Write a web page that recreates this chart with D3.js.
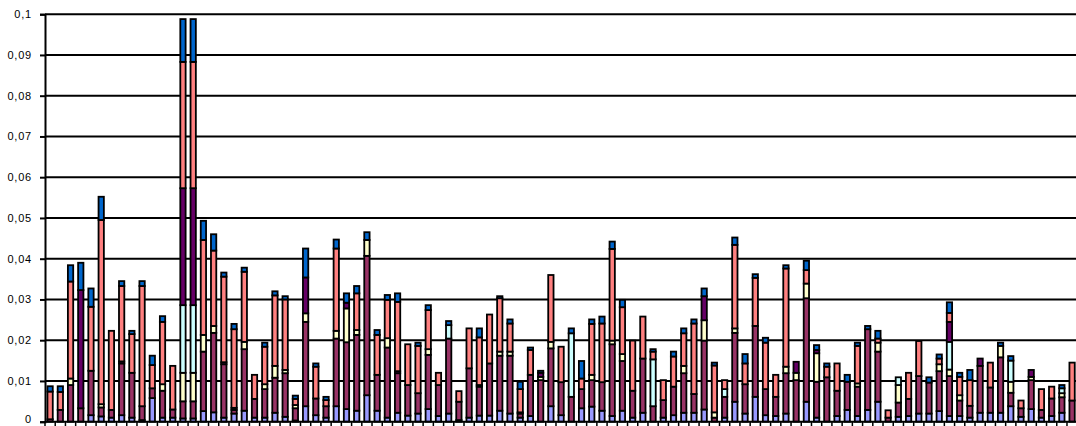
<!DOCTYPE html>
<html><head><meta charset="utf-8">
<script src="https://cdn.jsdelivr.net/npm/d3@7"></script>
<style>html,body{margin:0;padding:0;background:#fff;} svg{display:block;}</style>
</head><body><svg id="chart" width="1076" height="426"></svg>
<script>
// ---- data ----
const categories = d3.range(1, 102).map(String);

const s1 = [0,0,0,0,.0016,.0013,.001,.0016,.001,.0004,
 .0058,.001,.001,.0008,.0008,.0026,.0023,.001,.002,.0027,
 .001,.001,.0022,.0012,.0003,.0038,.0016,.001,.0038,.0031,
 .0027,.0065,.0027,.001,.0022,.0015,.002,.0031,.0014,.002,
 .0004,.001,.0015,.0015,.0027,.002,.001,.0014,0,.0038,
 .0016,0,.0033,.0037,.0027,.0014,.0027,.001,.0022,0,
 .001,.0016,.0022,.0022,.003,0,.001,.0049,.002,.0061,
 .0016,.0014,.002,0,.0049,.001,0,.0014,.0029,.0014,
 .0029,.0049,0,.0012,.0014,.002,.002,.0026,.0014,.0014,
 .001,.0022,.0022,.0022,.0038,.0012,.0031,.001,.0014,.0022,
 0];
const s2 = [.0006,.0029,.009,.0033,.0109,.0022,.0019,.0127,.011,.0034,
 .0024,.0066,.002,.0042,.0042,.0146,.0195,.0131,.0009,.0151,
 .0046,.007,.0086,.0107,.003,.0207,.0041,.0028,.0166,.0164,
 .0186,.0342,.0088,.0172,.0097,.0075,.005,.0133,.0076,.0184,
 .0045,.0121,.0071,.0128,.0135,.0142,.001,.0101,.0102,.0142,
 .0081,.0061,.0047,.0065,.007,.0176,.0122,.0066,.0133,.0038,
 .0043,.007,.0097,.0046,.0169,.001,.0051,.0169,.0072,.0174,
 .0064,.0047,.0099,.0102,.0254,.0088,.0109,.0062,.0069,.0072,
 .0198,.0123,.001,.0035,.0042,.0092,.0076,.0098,.0098,.0038,
 .0029,.0115,.0062,.0136,.0033,.0021,.0071,.0019,.0043,.0038,
 .0052];
const s3 = [0,0,.0016,0,0,.0008,0,0,0,0,
 0,.0016,0,.007,.007,.0041,.0017,0,0,.0018,
 0,.0012,.0029,.0008,.0008,.0021,0,0,.0019,.0083,
 .0012,.0039,0,.0023,0,0,0,.0014,0,0,
 0,0,0,0,.001,.001,0,0,.0008,.0016,
 0,0,0,.0013,0,.0009,.0017,0,0,0,
 0,0,.0018,0,.005,.0013,0,.0011,0,0,
 0,0,.0016,.0018,.0036,.007,0,0,0,.0008,
 0,.0022,0,.0043,0,0,0,.0017,.0016,.0013,
 0,0,0,.0028,.0027,0,.0008,0,0,.001,
 0];
const s4 = [0,0,0,0,0,0,0,0,0,0,
 0,0,0,.0166,.0166,0,0,0,0,0,
 0,0,0,0,0,0,0,0,0,0,
 0,0,0,0,0,0,0,0,0,.0033,
 0,0,0,0,0,0,0,0,0,0,
 0,.0156,0,0,0,0,0,0,0,.0115,
 0,0,0,0,0,0,.0019,0,0,0,
 0,0,0,0,0,0,0,0,0,0,
 0,0,0,.0019,0,0,0,0,.0068,0,
 0,0,0,0,.0052,0,0,0,0,.0012,
 0];
const s5 = [0,0,0,.029,0,0,0,.0005,0,0,
 0,0,0,.0287,.0287,0,0,.0005,.0005,0,
 0,0,0,0,0,.0088,0,0,0,.0014,
 0,0,0,0,.0005,0,0,0,0,0,
 0,0,.0004,0,0,0,.0003,0,.001,0,
 0,0,0,0,0,0,0,0,0,0,
 0,0,0,0,.0059,0,0,0,0,0,
 0,0,0,.0027,0,.0008,0,0,0,0,
 0,0,0,0,0,0,0,0,.0049,0,
 0,.0018,0,0,0,0,.0017,0,0,0,
 0];
const s6 = [.0068,.0044,.0238,0,.0157,.0452,.0194,.0185,.0095,.0295,
 .0057,.0153,.0107,.031,.031,.0233,.0185,.021,.0193,.0172,
 .0059,.0092,.0173,.0173,.0015,0,.0078,.0015,.0202,0,
 .009,0,.0098,.0094,.017,.01,.0116,.0096,.003,0,
 .0026,.0098,.0117,.012,.0131,.0069,.0057,.0061,0,.0164,
 .0087,0,.0026,.0125,.0144,.0225,.0115,.0123,.0103,.0019,
 .0049,.0074,.008,.0173,0,.0115,.0022,.0205,.0051,.0118,
 .0114,.0054,.0241,0,.0033,0,.0026,.0067,0,.0092,
 0,.001,.0018,0,.0064,.0086,0,.0014,.0022,.0045,
 .0063,0,.0061,0,0,.0019,0,.0051,.0029,0,
 .0093];
const s7 = [.0013,.0014,.004,.0067,.0045,.0057,0,.0012,.0008,.0012,
 .0023,.0014,0,.0105,.0105,.0047,.004,.001,.0013,.001,
 0,.001,.001,.0008,.0008,.0071,.0008,.0008,.0022,.0023,
 .0018,.0019,.0012,.0012,.0021,0,.0008,.0012,0,.001,
 0,0,.0022,0,.0005,.001,.0018,.0006,.0005,0,
 0,.0012,.0043,.0011,.0017,.0018,.0018,0,0,.0006,
 0,.0012,.0012,.001,.0019,.0007,0,.0018,.0023,.0009,
 .0012,0,.0008,0,.0023,.0012,.0008,0,.0017,.0008,
 .0008,.0019,0,0,0,0,.0013,.001,.0026,.001,
 .0025,0,0,.0008,.0011,0,0,0,0,.0008,
 0];

const seriesNames = ["S1","S2","S3","S4","S5","S6","S7"];
const seriesValues = [s1, s2, s3, s4, s5, s6, s7];
const seriesColors = ["#9999FF","#993366","#FFFFCC","#CCFFFF","#660066","#FF8080","#0066CC"];
const yTicks = [0,0.01,0.02,0.03,0.04,0.05,0.06,0.07,0.08,0.09,0.1];
const yTickLabels = ["0","0,01","0,02","0,03","0,04","0,05","0,06","0,07","0,08","0,09","0,1"];

// ---- layout ----
const W = 1076, H = 426;
const plotLeft = 45, plotRight = 1077.2, plotTop = 14.2, plotBottom = 421.7;

const table = categories.map((c, i) => {
  const row = {cat: c};
  seriesNames.forEach((n, k) => row[n] = seriesValues[k][i]);
  return row;
});

const svg = d3.select("#chart");
svg.append("rect").attr("width", W).attr("height", H).attr("fill", "#fff");

const x = d3.scaleBand().domain(categories).range([plotLeft, plotRight])
  .paddingInner(0.48).paddingOuter(0.24);
const y = d3.scaleLinear().domain([0, 0.1]).range([plotBottom, plotTop]);

// gridlines
svg.append("g").selectAll("line").data(yTicks.slice(1)).join("line")
  .attr("x1", plotLeft).attr("x2", W)
  .attr("y1", d => y(d)).attr("y2", d => y(d))
  .attr("stroke", "#000").attr("stroke-width", 2);

// bars
const stacked = d3.stack().keys(seriesNames)(table);
const layers = svg.append("g").selectAll("g").data(stacked).join("g")
  .attr("fill", (d, i) => seriesColors[i]);
layers.selectAll("rect")
  .data(d => d.filter(p => p[1] - p[0] > 0))
  .join("rect")
  .attr("x", p => x(p.data.cat))
  .attr("width", x.bandwidth())
  .attr("y", p => y(p[1]))
  .attr("height", p => y(p[0]) - y(p[1]))
  .attr("stroke", "#000").attr("stroke-width", 1.8);

// y axis
const yAxis = d3.axisLeft(y).tickValues(yTicks)
  .tickFormat((d, i) => yTickLabels[i]).tickSize(5).tickPadding(8);
const gy = svg.append("g").attr("transform", `translate(${plotLeft},0)`).call(yAxis);
gy.select(".domain").attr("stroke", "#000").attr("stroke-width", 2);
gy.selectAll(".tick line").attr("stroke", "#000").attr("stroke-width", 2);
gy.selectAll(".tick text").attr("fill", "#000")
  .style("font-family", "'Liberation Sans', Arial, sans-serif")
  .style("font-size", "11px").style("letter-spacing", "0.8px");
// keep the bottom "0" label inside the picture
gy.selectAll(".tick text").filter(d => d === 0).attr("dy", "0.1em");

// x axis: baseline + category boundary ticks
const gap = (x.step() - x.bandwidth()) / 2;
const bounds = categories.map(c => x(c) - gap).concat([x(categories[categories.length - 1]) + x.bandwidth() + gap]);
svg.append("g").selectAll("line").data(bounds).join("line")
  .attr("x1", d => d).attr("x2", d => d)
  .attr("y1", plotBottom).attr("y2", plotBottom + 5)
  .attr("stroke", "#000").attr("stroke-width", 1.5);
svg.append("line").attr("x1", plotLeft).attr("x2", W)
  .attr("y1", plotBottom).attr("y2", plotBottom)
  .attr("stroke", "#000").attr("stroke-width", 2);
</script>
</body></html>
